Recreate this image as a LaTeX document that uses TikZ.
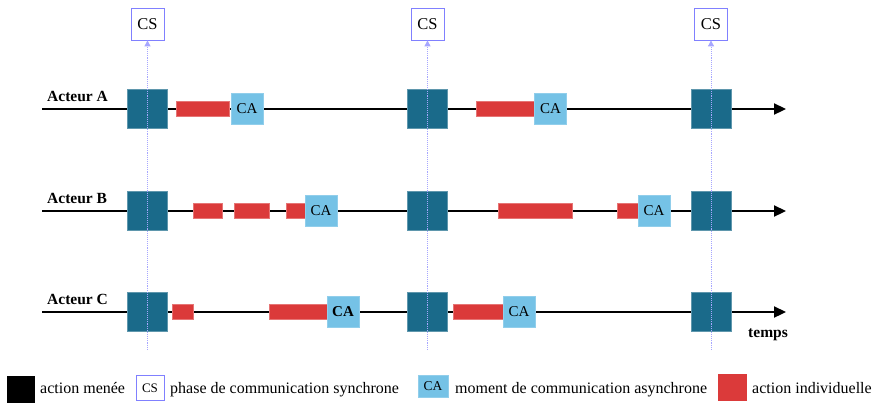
\documentclass[tikz,border=0pt]{standalone}
\usepackage{fontspec}
\setmainfont{Liberation Serif}
\usetikzlibrary{arrows.meta}
\definecolor{darkact}{RGB}{26,106,138}
\definecolor{lightca}{RGB}{117,194,230}
\definecolor{redind}{RGB}{219,58,58}
\definecolor{csblue}{RGB}{128,128,255}
\begin{document}
\begin{tikzpicture}[x=1pt,y=-1pt,
    menee/.style={rectangle,fill=darkact,draw=darkact!70!white,line width=0.4pt,minimum width=40,minimum height=39,inner sep=0},
    casync/.style={rectangle,fill=lightca,draw=lightca!80!white,line width=0.4pt,minimum width=32,minimum height=31,inner sep=0,font=\fontsize{15}{15}\selectfont},
    indiv/.style={rectangle,fill=redind,draw=redind!70!white,line width=0.4pt,minimum height=15,inner sep=0},
    csync/.style={rectangle,fill=white,draw=csblue,line width=0.8pt,minimum width=33,minimum height=32,inner sep=0,font=\fontsize{16.5}{16.5}\selectfont},
    acteur/.style={anchor=base west,inner sep=0,font=\fontsize{15.5}{15.5}\selectfont\bfseries},
    legtext/.style={anchor=base west,inner sep=0,font=\fontsize{16}{16}\selectfont},
    timeline/.style={line width=2.2pt,-{Triangle[length=12pt,width=11pt]}},
    syncline/.style={csblue!70!white,densely dotted,line width=0.9pt,-{Triangle[length=6pt,width=6pt]}}
]
\useasboundingbox (0,0) rectangle (874,402);

% acteurs et axes
\foreach \row/\y in {A/109,B/211,C/312}{
    \node[acteur] (lab\row) at (47,\y-8) {Acteur \row};
    \coordinate (start\row) at (42,\y);
    \coordinate (end\row) at (786,\y);
    \draw[timeline] (start\row) -- (end\row);
}

% actions individuelles
\node[indiv,minimum width=53] (ra1) at (202.5,109) {};
\node[indiv,minimum width=58] (ra2) at (505,109) {};
\node[indiv,minimum width=29] (rb1) at (207.5,211) {};
\node[indiv,minimum width=35] (rb2) at (251.5,211) {};
\node[indiv,minimum width=19] (rb3) at (295.5,211) {};
\node[indiv,minimum width=74] (rb4) at (535,211) {};
\node[indiv,minimum width=21] (rb5) at (627.5,211) {};
\node[indiv,minimum width=21] (rc1) at (182.5,312) {};
\node[indiv,minimum width=58] (rc2) at (298,312) {};
\node[indiv,minimum width=50] (rc3) at (478,312) {};

% communication asynchrone
\node[casync] (caA1) at (247,109) {CA};
\node[casync] (caA2) at (550.5,109) {CA};
\node[casync] (caB1) at (321,211) {CA};
\node[casync] (caB2) at (654,211) {CA};
\node[casync,font=\fontsize{15}{15}\selectfont\bfseries] (caC1) at (343,312) {CA};
\node[casync] (caC2) at (519,312) {CA};

% phases synchrones
\foreach \k/\x in {1/147.5,2/427.5,3/711}{
    \foreach \row/\y in {A/109,B/211,C/312}
        \node[menee] (m\row\k) at (\x,\y) {};
    \node[csync] (cs\k) at (\x,24) {CS};
    \coordinate (bas\k) at (\x,350);
    \draw[syncline] (bas\k) -- (cs\k);
}

\node[acteur] (temps) at (748,337) {temps};

% legende
\node[rectangle,fill=black,minimum width=28,minimum height=27,inner sep=0] (legM) at (21,389) {};
\node[legtext] (legMt) at (40,393) {action menée};
\node[csync,minimum width=28,minimum height=25,font=\fontsize{13}{13}\selectfont] (legS) at (150,388) {CS};
\node[legtext] (legSt) at (170,393) {phase de communication synchrone};
\node[casync,minimum width=30,minimum height=22,font=\fontsize{13.5}{13.5}\selectfont] (legA) at (433,386) {CA};
\node[legtext] (legAt) at (455,393) {moment de communication asynchrone};
\node[rectangle,fill=redind,minimum width=29,minimum height=27,inner sep=0] (legI) at (732.5,387) {};
\node[legtext] (legIt) at (752,393) {action individuelle};
\end{tikzpicture}
\end{document}
